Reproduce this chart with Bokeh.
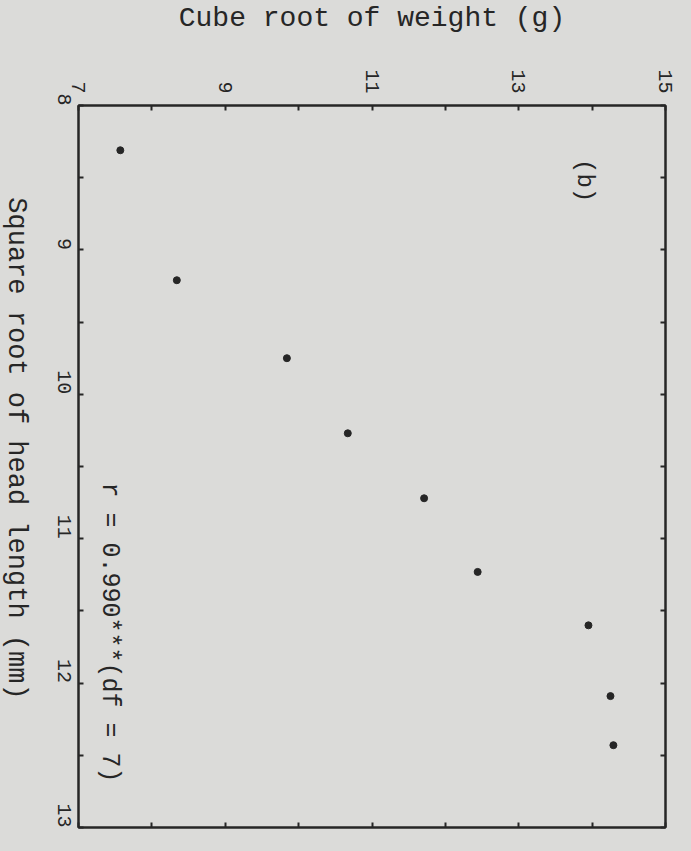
import math
from bokeh.plotting import figure
from bokeh.layouts import row
from bokeh.models import Range1d, LinearAxis, FixedTicker, ColumnDataSource
from bokeh.core.properties import value
from bokeh.embed import file_html
from bokeh.resources import INLINE

# Data (cube root of weight vs square root of head length)
weight_cbrt = [7.57, 8.34, 9.84, 10.67, 11.71, 12.44, 13.95, 14.25, 14.29]
head_sqrt = [8.31, 9.21, 9.75, 10.27, 10.72, 11.23, 11.60, 12.09, 12.43]

x_ticks = [7, 9, 11, 13, 15]
x_minor = [8, 10, 12, 14]
y_ticks = [8, 9, 10, 11, 12, 13]
y_minor = [8.5, 9.5, 10.5, 11.5, 12.5]

x_title = "Cube root of weight (g)"
y_title = "Square root of head length (mm)"
panel_label = "(b)"
stat_label = "r = 0.990***(df = 7)"
panel_pos = (13.9, 8.52)
stat_pos = (7.42, 11.65)

BG = "#dbdbd9"
INK = "#262626"
MONO = "Liberation Mono"
H = 835
LEFT_W = 36

# narrow strip holding the rotated y-axis title (reads top to bottom)
t = figure(width=LEFT_W, height=H, x_range=Range1d(0, 1), y_range=Range1d(0, 1),
           output_backend="svg", toolbar_location=None,
           min_border_left=0, min_border_right=0, min_border_top=0, min_border_bottom=0)
t.axis.visible = False
t.grid.visible = False
t.outline_line_color = None
t.background_fill_color = BG
t.border_fill_color = BG
t.text(x=[0.42], y=[0.525], text=[y_title], angle=-math.pi / 2,
       text_align="center", text_baseline="middle", text_font=value(MONO),
       text_font_size="27px", text_color=INK)

p = figure(width=675 - LEFT_W, height=H, x_range=Range1d(7, 15), y_range=Range1d(13, 8),
           x_axis_location="above", output_backend="svg", toolbar_location=None,
           min_border_left=86 - 8 - LEFT_W, min_border_right=10, min_border_top=101,
           min_border_bottom=8)
p.background_fill_color = BG
p.border_fill_color = BG
p.outline_line_color = INK
p.outline_line_width = 2
p.xgrid.visible = False
p.ygrid.visible = False

def style_axis(ax, ticks, minor, labels=True):
    ax.ticker = FixedTicker(ticks=ticks, minor_ticks=minor)
    ax.axis_line_color = INK
    ax.axis_line_width = 2
    ax.major_tick_in = 5
    ax.major_tick_out = 0
    ax.minor_tick_in = 5
    ax.minor_tick_out = 0
    ax.major_tick_line_color = INK
    ax.minor_tick_line_color = INK
    ax.major_tick_line_width = 2
    ax.minor_tick_line_width = 2
    if labels:
        ax.major_label_orientation = -math.pi / 2
        ax.major_label_text_font = MONO
        ax.major_label_text_font_size = "20px"
        ax.major_label_text_color = INK
        ax.axis_label_text_font = MONO
        ax.axis_label_text_font_size = "28px"
        ax.axis_label_text_font_style = "normal"
        ax.axis_label_text_color = INK
    else:
        ax.major_label_text_color = None
        ax.major_label_text_font_size = "8px"
        ax.major_label_standoff = 0

xa = p.xaxis[0]
style_axis(xa, x_ticks, x_minor)
xa.axis_label = x_title
xa.major_label_standoff = 12
xa.axis_label_standoff = 32

ya = p.yaxis[0]
style_axis(ya, y_ticks, y_minor)
ya.major_label_standoff = 14

bx = LinearAxis()
style_axis(bx, x_ticks, x_minor, labels=False)
p.add_layout(bx, "below")
ry = LinearAxis()
style_axis(ry, y_ticks, y_minor, labels=False)
p.add_layout(ry, "right")

src = ColumnDataSource(dict(x=weight_cbrt, y=head_sqrt))
p.scatter("x", "y", source=src, size=7, color=INK)

p.text(x=[panel_pos[0]], y=[panel_pos[1]], text=[panel_label], angle=-math.pi / 2,
       text_align="center", text_baseline="middle", text_font=value(MONO),
       text_font_size="24px", text_color=INK)
p.text(x=[stat_pos[0]], y=[stat_pos[1]], text=[stat_label], angle=-math.pi / 2,
       text_align="center", text_baseline="middle", text_font=value(MONO),
       text_font_size="25px", text_color=INK)

layout = row(t, p, spacing=0)

page_tmpl = ("{% block preamble %}<style>html, body { background-color: " + BG +
             "; }</style>{% endblock %}")
try:
    html = file_html(layout, INLINE, template=page_tmpl)
except Exception:
    html = file_html(layout, INLINE)
open("out.html", "w").write(html)
